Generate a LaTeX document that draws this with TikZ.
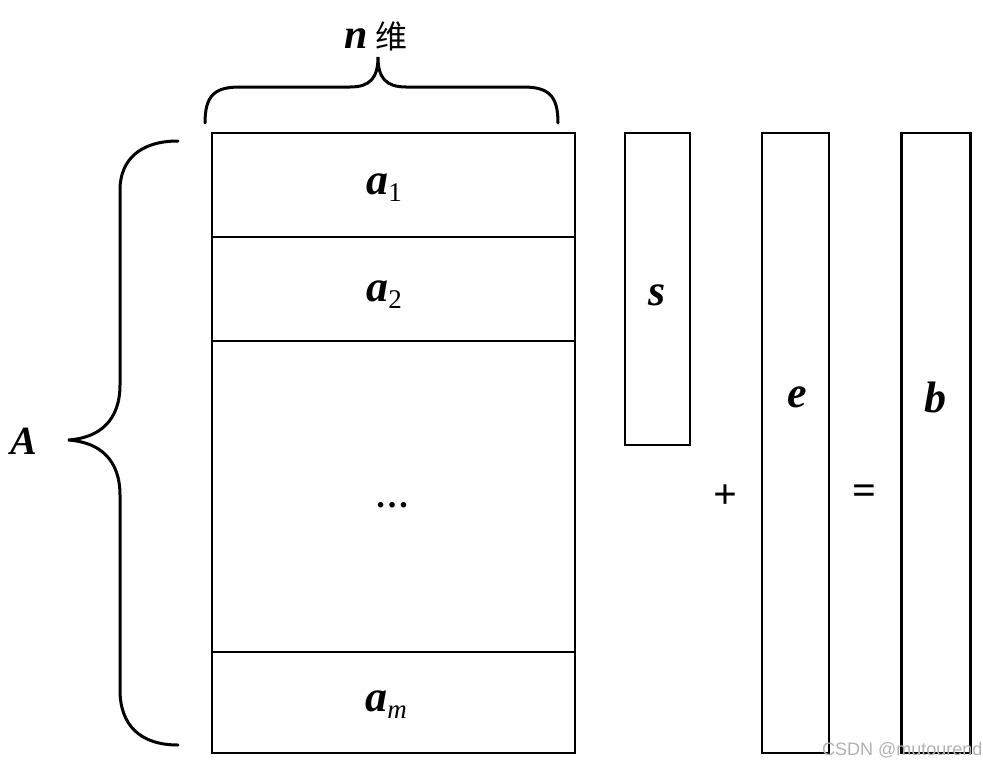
\documentclass[tikz,border=0pt]{standalone}
\usepackage{fontspec}
\setmainfont{Liberation Serif}
\newfontfamily\cjk{Noto Sans CJK SC}
\newfontfamily\wmfont{Liberation Sans}
\newcommand\vsub[1]{\raisebox{-7pt}{\fontsize{27}{27}\selectfont #1}}
\begin{document}
\begin{tikzpicture}[x=1pt,y=-1pt,
  box/.style={draw,line width=2.5pt,inner sep=0pt},
  brace/.style={line width=3pt,line cap=round},
  lab/.style={inner sep=0pt,font=\fontsize{44}{44}\selectfont\bfseries\itshape},
  op/.style={inner sep=0pt,font=\fontsize{42}{42}\selectfont\bfseries}]
\useasboundingbox (0,0) rectangle (983,766);
% main matrix rows
\node[box,minimum width=363pt,minimum height=104pt] (r1) at (393.5,185) {};
\node[box,minimum width=363pt,minimum height=104pt] (r2) at (393.5,289) {};
\node[box,minimum width=363pt,minimum height=311pt] (r3) at (393.5,496.5) {};
\node[box,minimum width=363pt,minimum height=101pt] (r4) at (393.5,702.5) {};
\node[lab] (a1) at (384,188) {a\vsub{\upshape\mdseries 1}};
\node[lab] (a2) at (384,295) {a\vsub{\upshape\mdseries 2}};
\node[op,font=\fontsize{34}{34}\selectfont\bfseries] (dots) at (392,505) {\ldots};
\node[lab] (am) at (386,705) {a\vsub{\mdseries m}};
% vectors
\node[box,minimum width=65pt,minimum height=312pt] (s) at (657.5,289) {};
\node[lab] at (657,295) {s};
\node[box,minimum width=67pt,minimum height=620pt] (e) at (795.5,443) {};
\node[lab] at (797,397) {e};
\node[box,minimum width=69pt,minimum height=620pt] (b) at (936,443) {};
\node[lab] at (935,397) {b};
\node[op] (plus) at (725,497) {+};
\node[op] (eq) at (864,495) {=};
% top brace
\coordinate (tl) at (205,123);
\coordinate (tr) at (558,123);
\coordinate (tt) at (378,57);
\draw[brace] (tl) .. controls (205,95) and (215,87) .. (240,87)
  -- (350,87) .. controls (370,87) and (378,78) .. (tt)
  .. controls (378,78) and (386,87) .. (406,87)
  -- (523,87) .. controls (548,87) and (558,95) .. (tr);
\node[inner sep=0pt] (ndim) at (376,36) {\fontsize{42}{42}\selectfont\bfseries\itshape n\hspace{8pt}{\cjk\mdseries\fontsize{32}{32}\selectfont 维}};
% left brace
\coordinate (lt) at (178,141);
\coordinate (lb) at (178,745);
\coordinate (lp) at (68,440);
\draw[brace] (lt) .. controls (140,141) and (120,160) .. (120,190)
  -- (120,385) .. controls (120,420) and (100,438) .. (lp)
  .. controls (100,442) and (120,460) .. (120,495)
  -- (120,690) .. controls (120,725) and (140,745) .. (lb);
\node[lab,font=\fontsize{40}{40}\selectfont\bfseries\itshape] (A) at (24,441) {A};
% watermark
\node[anchor=base west,inner sep=0pt,text=black!30,font=\wmfont\fontsize{18}{18}\selectfont] (wm) at (822,755) {CSDN @mutourend};
\end{tikzpicture}
\end{document}
